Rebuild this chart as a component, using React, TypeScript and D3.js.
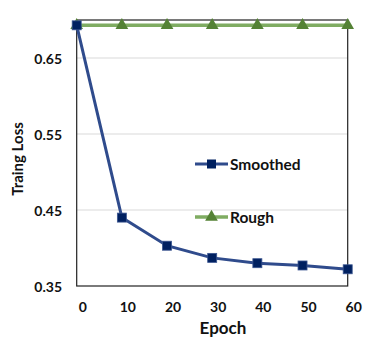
import React from 'react';
import * as d3 from 'd3';

const epochs = [0, 10, 20, 30, 40, 50, 60];
const smoothed = [0.693, 0.44, 0.403, 0.387, 0.38, 0.377, 0.372];
const rough = [0.693, 0.693, 0.693, 0.693, 0.693, 0.693, 0.693];
const yTicks = [0.35, 0.45, 0.55, 0.65];
const xTicks = [0, 10, 20, 30, 40, 50, 60];
const seriesNames = ['Smoothed', 'Rough'];

const W = 382;
const H = 345;
const left = 76.7;
const right = 347.7;
const top = 20;
const bottom = 286;
const font = 'Lato, "Open Sans", "DejaVu Sans", sans-serif';

const SMOOTH_LINE = '#2f4b8c';
const SMOOTH_MARK = '#002060';
const ROUGH_LINE = '#7fac62';
const ROUGH_MARK = '#548235';

export default function App() {
  const x = d3.scaleLinear().domain([0, 60]).range([left, right]);
  const y = d3.scaleLinear().domain([0.35, 0.7]).range([bottom, top]);

  const line = d3
    .line<number>()
    .x((_, i) => x(epochs[i]))
    .y((d) => y(d));

  const tri = d3.symbol().type(d3.symbolTriangle).size(70)();

  return (
    <div style={{ position: 'absolute', left: 0, top: 0 }}>
      <svg width={W} height={H} style={{ display: 'block', background: '#fff' }}>
        {/* gridlines */}
        {yTicks.slice(1).map((t) => (
          <line key={t} x1={left} x2={right} y1={y(t)} y2={y(t)} stroke="#d9d9d9" strokeWidth={1} />
        ))}
        {/* frame */}
        <rect x={left} y={top} width={right - left} height={bottom - top} fill="none" stroke="#222" strokeWidth={1.2} />

        {/* y labels */}
        {yTicks.map((t) => (
          <text
            key={t}
            x={62}
            y={y(t)}
            textAnchor="end"
            dominantBaseline="central"
            fontFamily={font}
            fontWeight="bold"
            fontSize={14}
            fill="#111"
          >
            {t.toFixed(2)}
          </text>
        ))}
        {/* x labels */}
        {xTicks.map((t) => (
          <text
            key={t}
            x={x(t) + 6}
            y={312}
            textAnchor="middle"
            fontFamily={font}
            fontWeight="bold"
            fontSize={14}
            fill="#111"
          >
            {t}
          </text>
        ))}
        <text x={223} y={334} textAnchor="middle" fontFamily={font} fontWeight="bold" fontSize={17} fill="#111">
          Epoch
        </text>
        <text
          transform="translate(23,159) rotate(-90)"
          textAnchor="middle"
          fontFamily={font}
          fontWeight="bold"
          fontSize={15}
          fill="#111"
        >
          Traing Loss
        </text>

        {/* rough series */}
        <path d={line(rough) ?? ''} fill="none" stroke={ROUGH_LINE} strokeWidth={3.5} />
        {rough.map((v, i) => (
          <path key={i} d={tri ?? ''} transform={`translate(${x(epochs[i])},${y(v)})`} fill={ROUGH_MARK} />
        ))}

        {/* smoothed series */}
        <path d={line(smoothed) ?? ''} fill="none" stroke={SMOOTH_LINE} strokeWidth={3} />
        {smoothed.map((v, i) => (
          <rect
            key={i}
            x={x(epochs[i]) - 4.5}
            y={y(v) - 4.5}
            width={9}
            height={9}
            fill={SMOOTH_MARK}
            stroke="#3a5590"
            strokeWidth={0.8}
          />
        ))}

        {/* legend */}
        <g transform="translate(195,164)">
          <line x1={0} x2={33} y1={0} y2={0} stroke={SMOOTH_LINE} strokeWidth={3} />
          <rect x={12} y={-4.5} width={9} height={9} fill={SMOOTH_MARK} />
          <text x={35} y={0} dominantBaseline="central" fontFamily={font} fontWeight="bold" fontSize={15.5} fill="#111">
            {seriesNames[0]}
          </text>
        </g>
        <g transform="translate(195,217)">
          <line x1={0} x2={33} y1={0} y2={0} stroke={ROUGH_LINE} strokeWidth={3.5} />
          <path d={tri ?? ''} transform="translate(16.5,0)" fill={ROUGH_MARK} />
          <text x={35} y={0} dominantBaseline="central" fontFamily={font} fontWeight="bold" fontSize={15.5} fill="#111">
            {seriesNames[1]}
          </text>
        </g>
      </svg>
    </div>
  );
}
